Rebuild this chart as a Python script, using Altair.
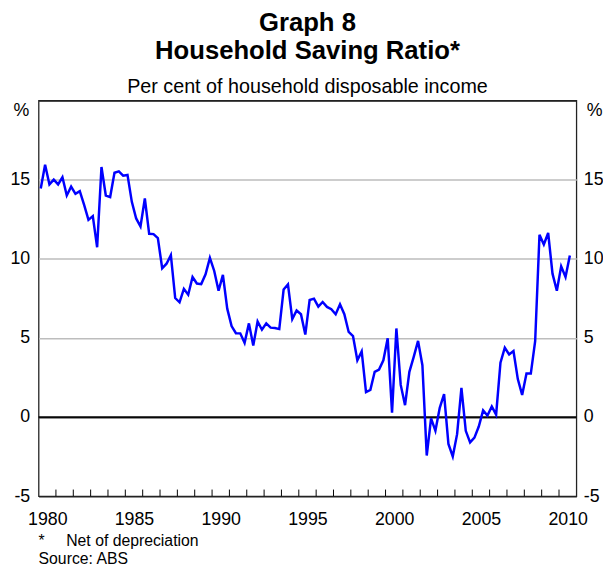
import altair as alt
import pandas as pd

START_YEAR = 1980
END_YEAR = 2011

# Household saving ratio, per cent, quarterly from 1980 Q1
saving_1980s = [14.44, 15.94, 14.7, 15.0, 14.7, 15.15, 14.0, 14.56, 14.1, 14.27,
                13.4, 12.46, 12.7, 10.73, 15.8, 14.0, 13.9, 15.44, 15.52, 15.25,
                15.3, 13.6, 12.55, 12.04, 13.81, 11.58, 11.56, 11.31, 9.4, 9.69,
                10.23, 7.52, 7.25, 8.1, 7.73, 8.85, 8.44, 8.4, 9.02, 10.06]
saving_1990s = [9.23, 7.98, 8.98, 6.85, 5.75, 5.3, 5.29, 4.69, 5.92, 4.52,
                6.04, 5.52, 5.92, 5.65, 5.63, 5.56, 8.06, 8.38, 6.19, 6.73,
                6.5, 5.21, 7.4, 7.48, 6.98, 7.27, 6.96, 6.81, 6.5, 7.13,
                6.5, 5.38, 5.12, 3.59, 4.15, 1.58, 1.72, 2.86, 3.0, 3.59]
saving_2000s = [4.98, 0.27, 5.6, 2.03, 0.75, 2.86, 3.8, 4.81, 3.28, -2.43,
                -0.08, -0.87, 0.58, 1.45, -1.7, -2.49, -1.08, 1.85, -0.87, -1.6,
                -1.3, -0.6, 0.42, 0.1, 0.67, 0.15, 3.44, 4.38, 3.96, 4.17,
                2.4, 1.4, 2.75, 2.75, 4.79, 11.52, 10.9, 11.63, 9.06, 7.98,
                9.52, 8.85, 10.21]

saving = saving_1980s + saving_1990s + saving_2000s
quarter_year = [START_YEAR + i // 4 for i in range(len(saving))]
quarter_num = [i % 4 + 1 for i in range(len(saving))]

y_ticks = [-5, 0, 5, 10, 15, 20]
year_ticks = list(range(START_YEAR, END_YEAR + 1))
inner_years = list(range(START_YEAR + 1, END_YEAR))

df = pd.DataFrame({"year": quarter_year, "quarter": quarter_num, "saving": saving})
ticks_df = pd.DataFrame({"year": inner_years})
zero_df = pd.DataFrame({"level": [0]})

FONT = "Liberation Sans"
W, H = 545, 401

xs = alt.Scale(domain=[START_YEAR, END_YEAR], nice=False, zero=False)
ys = alt.Scale(domain=[-5, 20], nice=False, zero=False)

x_axis = alt.Axis(values=year_ticks, format="d",
                  labelExpr="datum.value % 5 == 0 && datum.value < 2011 ? datum.label : ''",
                  labelOffset=8.8, ticks=False, domain=False, grid=False,
                  labelPadding=15, labelFontSize=18, labelFont=FONT, labelColor="black",
                  labelFlush=False, labelOverlap=False, title=None)

y_label_expr = "datum.value >= 20 ? '' : '' + datum.value"

left_axis = alt.Axis(orient="left", values=y_ticks, grid=True, labelExpr=y_label_expr,
                     gridColor={"condition": {"test": "datum.value <= 0 || datum.value >= 20",
                                              "value": "#222222"},
                                "value": "#bdbdbd"},
                     gridWidth=1.5, ticks=False, domain=False,
                     labelFontSize=18, labelFont=FONT, labelColor="black", labelPadding=9,
                     labelFlush=False,
                     title="%", titleAngle=0, titleX=-18, titleY=15, titleAlign="center",
                     titleBaseline="alphabetic", titleFontWeight="normal",
                     titleFontSize=18, titleFont=FONT, titleColor="black")

right_axis = alt.Axis(orient="right", values=y_ticks, grid=False, ticks=False, domain=False,
                      labelExpr=y_label_expr,
                      labelFontSize=18, labelFont=FONT, labelColor="black", labelPadding=7,
                      labelFlush=False,
                      title="%", titleAngle=0, titleX=18, titleY=15, titleAlign="center",
                      titleBaseline="alphabetic", titleFontWeight="normal",
                      titleFontSize=18, titleFont=FONT, titleColor="black")

zero_rule = alt.Chart(zero_df).mark_rule(color="black", strokeWidth=1.5).encode(
    y=alt.Y("level:Q", scale=ys, axis=right_axis)
)

year_ticks_layer = alt.Chart(ticks_df).transform_calculate(
    y0="-5", y1="-4.58"
).mark_rule(color="black", strokeWidth=1).encode(
    x=alt.X("year:Q", scale=xs, axis=x_axis),
    y=alt.Y("y0:Q", scale=ys, axis=None),
    y2="y1:Q",
)

line = alt.Chart(df).transform_calculate(
    date="datum.year + (datum.quarter - 0.5) / 4"
).mark_line(color="#0000ff", strokeWidth=2.5).encode(
    x=alt.X("date:Q", scale=xs, axis=x_axis),
    y=alt.Y("saving:Q", scale=ys, axis=left_axis),
)

note1_star = alt.Chart(pd.DataFrame({"t": ["*"]})).mark_text(
    align="left", baseline="alphabetic", font=FONT, fontSize=16, color="black"
).encode(x=alt.value(0), y=alt.value(451), text="t:N")
note1 = alt.Chart(pd.DataFrame({"t": ["Net of depreciation"]})).mark_text(
    align="left", baseline="alphabetic", font=FONT, fontSize=16, color="black"
).encode(x=alt.value(28), y=alt.value(451), text="t:N")
note2 = alt.Chart(pd.DataFrame({"t": ["Source: ABS"]})).mark_text(
    align="left", baseline="alphabetic", font=FONT, fontSize=16, color="black"
).encode(x=alt.value(0), y=alt.value(470), text="t:N")

chart = alt.layer(zero_rule, year_ticks_layer, line, note1_star, note1, note2).resolve_scale(
    y="shared"
).resolve_axis(y="independent").properties(
    width=W, height=H,
    autosize=alt.AutoSizeParams(type="none"),
    padding={"left": 31, "top": 90, "right": 27, "bottom": 70},
    title=alt.TitleParams(
        text=["Graph 8", "Household Saving Ratio*"],
        subtitle="Per cent of household disposable income",
        font=FONT, fontSize=26, fontWeight="bold", color="black", lineHeight=28,
        subtitleFont=FONT, subtitleFontSize=20, subtitleColor="black",
        subtitlePadding=13, anchor="middle", offset=4,
    ),
).configure_view(stroke="#222222", strokeWidth=1.3)

chart.save("out.html", embed_options={"renderer": "svg", "actions": False})
